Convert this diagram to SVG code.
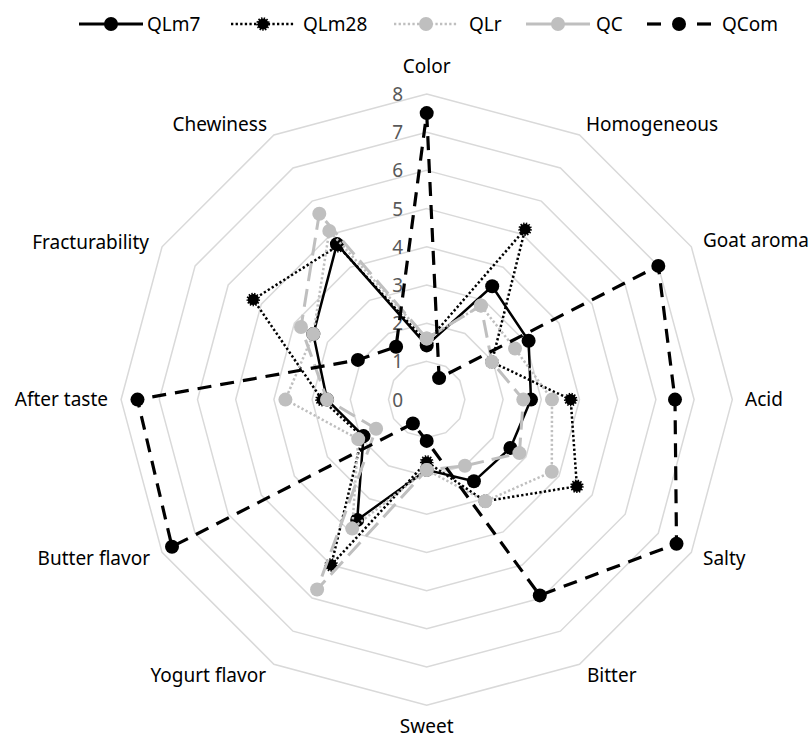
<svg xmlns="http://www.w3.org/2000/svg" width="812" height="740" viewBox="0 0 812 740">
<style>
text { font-family: "Noto Sans", "Open Sans", "Liberation Sans", sans-serif; font-size: 19px; fill: #000; }
.tick { fill: #595959; text-anchor: end; }
.mid { text-anchor: middle; }
.end { text-anchor: end; }
.grid polygon { fill: none; stroke: #d9d9d9; stroke-width: 1.5; }
.s1 { fill: none; stroke: #000; stroke-width: 2.5; stroke-linejoin: round; }
.s2 { fill: none; stroke: #000; stroke-width: 2.5; stroke-dasharray: 2.3 2.3; }
.s3 { fill: none; stroke: #bfbfbf; stroke-width: 2.5; stroke-dasharray: 2.3 2.3; }
.s4 { fill: none; stroke: #bfbfbf; stroke-width: 3; stroke-dasharray: 18 8; }
.s5 { fill: none; stroke: #000; stroke-width: 3.2; stroke-dasharray: 14 9; }
.l1 { fill: none; stroke: #000; stroke-width: 3; }
.l4 { fill: none; stroke: #bfbfbf; stroke-width: 3; }
.l5 { fill: none; stroke: #000; stroke-width: 3.2; }
.m1 circle, circle.m1 { fill: #000; }
.m2 circle, circle.m2 { fill: #000; stroke: #000; stroke-width: 2.6; stroke-dasharray: 1.3 1.3; }
.m3 circle, circle.m3, .m4 circle, circle.m4 { fill: #bfbfbf; }
.m5 circle, circle.m5 { fill: #000; }
</style>

<g id="grid" class="grid" transform="translate(426.7,399.6)">
<polygon points="0,-38.2 19.1,-33.08 33.08,-19.1 38.2,0 33.08,19.1 19.1,33.08 0,38.2 -19.1,33.08 -33.08,19.1 -38.2,0 -33.08,-19.1 -19.1,-33.08"/>
<polygon points="0,-76.4 38.2,-66.16 66.16,-38.2 76.4,0 66.16,38.2 38.2,66.16 0,76.4 -38.2,66.16 -66.16,38.2 -76.4,0 -66.16,-38.2 -38.2,-66.16"/>
<polygon points="0,-114.6 57.3,-99.24 99.24,-57.3 114.6,0 99.24,57.3 57.3,99.24 0,114.6 -57.3,99.24 -99.24,57.3 -114.6,0 -99.24,-57.3 -57.3,-99.24"/>
<polygon points="0,-152.8 76.4,-132.32 132.32,-76.4 152.8,0 132.32,76.4 76.4,132.32 0,152.8 -76.4,132.32 -132.32,76.4 -152.8,0 -132.32,-76.4 -76.4,-132.32"/>
<polygon points="0,-191 95.5,-165.4 165.4,-95.5 191,0 165.4,95.5 95.5,165.4 0,191 -95.5,165.4 -165.4,95.5 -191,0 -165.4,-95.5 -95.5,-165.4"/>
<polygon points="0,-229.2 114.6,-198.49 198.49,-114.6 229.2,0 198.49,114.6 114.6,198.49 0,229.2 -114.6,198.49 -198.49,114.6 -229.2,0 -198.49,-114.6 -114.6,-198.49"/>
<polygon points="0,-267.4 133.7,-231.57 231.57,-133.7 267.4,0 231.57,133.7 133.7,231.57 0,267.4 -133.7,231.57 -231.57,133.7 -267.4,0 -231.57,-133.7 -133.7,-231.57"/>
<polygon points="0,-305.6 152.8,-264.65 264.65,-152.8 305.6,0 264.65,152.8 152.8,264.65 0,305.6 -152.8,264.65 -264.65,152.8 -305.6,0 -264.65,-152.8 -152.8,-264.65"/>
</g>

<g id="scale">
<text class="tick" x="403" y="406.6">0</text>
<text class="tick" x="403" y="368.4">1</text>
<text class="tick" x="403" y="330.2">2</text>
<text class="tick" x="403" y="292">3</text>
<text class="tick" x="403" y="253.8">4</text>
<text class="tick" x="403" y="215.6">5</text>
<text class="tick" x="403" y="177.4">6</text>
<text class="tick" x="403" y="139.2">7</text>
<text class="tick" x="403" y="101">8</text>
</g>

<g id="axis-labels">
<text class="mid" x="426.7" y="73">Color</text>
<text x="586" y="131">Homogeneous</text>
<text x="703" y="247">Goat aroma</text>
<text x="745" y="406">Acid</text>
<text x="703" y="565">Salty</text>
<text x="587" y="682">Bitter</text>
<text class="mid" x="426.7" y="733">Sweet</text>
<text class="end" x="266" y="682">Yogurt flavor</text>
<text class="end" x="150" y="565">Butter flavor</text>
<text class="end" x="108" y="406">After taste</text>
<text class="end" x="149" y="249">Fracturability</text>
<text class="end" x="267" y="131">Chewiness</text>
</g>

<g id="connectors" transform="translate(426.7,399.6)">
<g id="QLm7">
<polygon class="s1" points="0,-54.2 65.5,-113.4 101.9,-58.8 104.3,0 83.7,48.3 47.2,81.7 0,70.3 -69.5,120.4 -63.2,36.5 -99.7,0 -113.4,-65.5 -89.8,-155.5"/>
<g class="m1">
<circle cx="0" cy="-54.2" r="7"/><circle cx="65.5" cy="-113.4" r="7"/><circle cx="101.9" cy="-58.8" r="7"/><circle cx="104.3" cy="0" r="7"/><circle cx="83.7" cy="48.3" r="7"/><circle cx="47.2" cy="81.7" r="7"/><circle cx="0" cy="70.3" r="7"/><circle cx="-69.5" cy="120.4" r="7"/><circle cx="-63.2" cy="36.5" r="7"/><circle cx="-99.7" cy="0" r="7"/><circle cx="-113.4" cy="-65.5" r="7"/><circle cx="-89.8" cy="-155.5" r="7"/>
</g>
</g>
<g id="QLm28">
<polygon class="s2" points="0,-57.3 98.4,-170.4 65.2,-37.6 144,0 150.2,86.7 58.6,101.6 0,62.3 -95.5,165.4 -64.5,37.2 -104.7,0 -173.4,-100.1 -88.8,-153.8"/>
<g class="m2">
<circle cx="0" cy="-57.3" r="5.5"/><circle cx="98.4" cy="-170.4" r="5.5"/><circle cx="65.2" cy="-37.6" r="5.5"/><circle cx="144" cy="0" r="5.5"/><circle cx="150.2" cy="86.7" r="5.5"/><circle cx="58.6" cy="101.6" r="5.5"/><circle cx="0" cy="62.3" r="5.5"/><circle cx="-95.5" cy="165.4" r="5.5"/><circle cx="-64.5" cy="37.2" r="5.5"/><circle cx="-104.7" cy="0" r="5.5"/><circle cx="-173.4" cy="-100.1" r="5.5"/><circle cx="-88.8" cy="-153.8" r="5.5"/>
</g>
</g>
<g id="QLr">
<polygon class="s3" points="0,-61.1 54.2,-94 88.3,-51 125.3,0 125.1,72.2 58.6,101.6 0,70.3 -74.5,129 -68.5,39.5 -141.3,0 -113.4,-65.5 -97.4,-168.7"/>
<g class="m3">
<circle cx="0" cy="-61.1" r="7"/><circle cx="54.2" cy="-94" r="7"/><circle cx="88.3" cy="-51" r="7"/><circle cx="125.3" cy="0" r="7"/><circle cx="125.1" cy="72.2" r="7"/><circle cx="58.6" cy="101.6" r="7"/><circle cx="0" cy="70.3" r="7"/><circle cx="-74.5" cy="129" r="7"/><circle cx="-68.5" cy="39.5" r="7"/><circle cx="-141.3" cy="0" r="7"/><circle cx="-113.4" cy="-65.5" r="7"/><circle cx="-97.4" cy="-168.7" r="7"/>
</g>
</g>
<g id="QC">
<polygon class="s4" points="0,-61.1 54.2,-94 65.2,-37.6 96.6,0 92.7,53.5 38.2,66.2 0,70.3 -109.6,189.9 -50.6,29.2 -99.7,0 -125.7,-72.6 -107.4,-185.9"/>
<g class="m4">
<circle cx="0" cy="-61.1" r="7"/><circle cx="54.2" cy="-94" r="7"/><circle cx="65.2" cy="-37.6" r="7"/><circle cx="96.6" cy="0" r="7"/><circle cx="92.7" cy="53.5" r="7"/><circle cx="38.2" cy="66.2" r="7"/><circle cx="0" cy="70.3" r="7"/><circle cx="-109.6" cy="189.9" r="7"/><circle cx="-50.6" cy="29.2" r="7"/><circle cx="-99.7" cy="0" r="7"/><circle cx="-125.7" cy="-72.6" r="7"/><circle cx="-107.4" cy="-185.9" r="7"/>
</g>
</g>
<g id="QCom">
<polygon class="s5" points="0,-286.5 12.4,-21.5 231.6,-133.7 248.3,0 249.8,144.2 113.1,195.8 0,41.3 -13.8,23.9 -254.7,147.1 -289.2,0 -68.8,-39.7 -30.6,-52.9"/>
<g class="m5">
<circle cx="0" cy="-286.5" r="7"/><circle cx="12.4" cy="-21.5" r="7"/><circle cx="231.6" cy="-133.7" r="7"/><circle cx="248.3" cy="0" r="7"/><circle cx="249.8" cy="144.2" r="7"/><circle cx="113.1" cy="195.8" r="7"/><circle cx="0" cy="41.3" r="7"/><circle cx="-13.8" cy="23.9" r="7"/><circle cx="-254.7" cy="147.1" r="7"/><circle cx="-289.2" cy="0" r="7"/><circle cx="-68.8" cy="-39.7" r="7"/><circle cx="-30.6" cy="-52.9" r="7"/>
</g>
</g>
</g>

<g id="legend">
<g id="leg-QLm7">
<line class="l1" x1="79" y1="24" x2="143" y2="24"/>
<circle class="m1" cx="111" cy="24" r="7"/>
<text x="147" y="31">QLm7</text>
</g>
<g id="leg-QLm28">
<line class="s2" x1="231" y1="24" x2="295" y2="24"/>
<circle class="m2" cx="263" cy="24" r="5.5"/>
<text x="303" y="31">QLm28</text>
</g>
<g id="leg-QLr">
<line class="s3" x1="394" y1="24" x2="458" y2="24"/>
<circle class="m3" cx="426" cy="24" r="7"/>
<text x="469" y="31">QLr</text>
</g>
<g id="leg-QC">
<line class="l4" x1="526" y1="24" x2="590" y2="24"/>
<circle class="m4" cx="558" cy="24" r="7"/>
<text x="596" y="31">QC</text>
</g>
<g id="leg-QCom">
<line class="l5" x1="647" y1="24" x2="661" y2="24"/>
<line class="l5" x1="697" y1="24" x2="711" y2="24"/>
<circle class="m5" cx="679" cy="24" r="7"/>
<text x="722" y="31">QCom</text>
</g>
</g>
</svg>
